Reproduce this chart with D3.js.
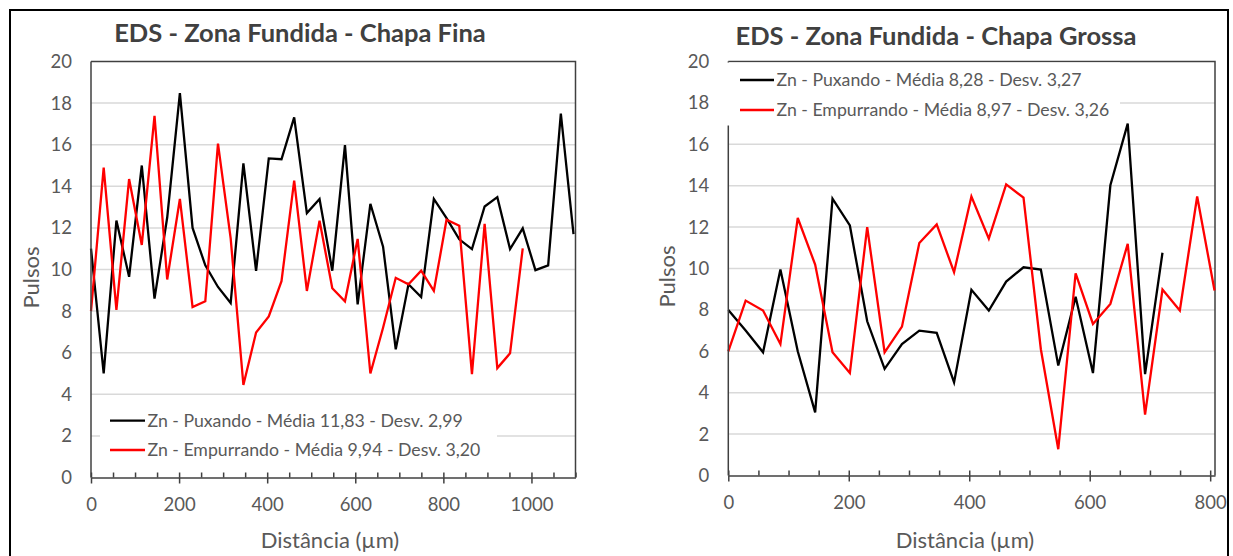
<!DOCTYPE html>
<html>
<head>
<meta charset="utf-8">
<script src="https://cdn.jsdelivr.net/npm/d3@7"></script>
<style>
  body { margin: 0; background: #fff; }
  svg { display: block; font-family: Lato, "Open Sans", sans-serif; }
</style>
</head>
<body>
<svg id="svgArea" width="1233" height="556"></svg>
<script>
// distance of each EDS point (µm)
var distancia = [0, 28.8, 57.7, 86.5, 115.3, 144.2, 173.0, 201.8, 230.6, 259.5,
    288.3, 317.1, 346.0, 374.8, 403.6, 432.5, 461.3, 490.1, 518.9, 547.8,
    576.6, 605.4, 634.3, 663.1, 691.9, 720.8, 749.6, 778.4, 807.2, 836.1,
    864.9, 893.7, 922.5, 951.4, 980.2, 1009.0, 1037.9, 1066.7, 1095.5];

// Chapa Fina
var finaPuxando = [11.0, 5.0, 12.35, 9.65, 15.0, 8.6, 12.5, 18.48, 12.0, 10.2,
    9.16, 8.39, 15.1, 9.94, 15.34, 15.3, 17.31, 12.71, 13.39, 9.94,
    15.98, 8.32, 13.16, 11.1, 6.16, 9.29, 8.68, 13.39, 12.47, 11.45,
    10.98, 13.03, 13.48, 10.98, 11.98, 9.97, 10.2, 17.5, 11.7];
var finaEmpurrando = [8.0, 14.9, 8.06, 14.35, 11.18, 17.39, 9.52, 13.39, 8.19, 8.47,
    16.05, 11.5, 4.45, 6.97, 7.74, 9.44, 14.27, 8.97, 12.35, 9.1,
    8.47, 11.47, 5.0, 7.2, 9.6, 9.29, 9.94, 8.97, 12.39, 12.1,
    4.97, 12.19, 5.26, 5.97, 11.02];

// Chapa Grossa
var grossaPuxando = [8.0, 7.0, 5.95, 9.95, 6.0, 3.05, 13.37, 12.08, 7.45, 5.15,
    6.35, 7.0, 6.89, 4.5, 8.97, 7.97, 9.37, 10.06, 9.95, 5.31,
    8.63, 4.95, 14.02, 17.0, 4.9, 10.76];
var grossaEmpurrando = [6.0, 8.45, 7.97, 6.35, 12.44, 10.19, 5.95, 4.95, 12.0, 5.95,
    7.19, 11.23, 12.13, 9.82, 13.48, 11.44, 14.06, 13.42, 6.1, 1.27,
    9.77, 7.32, 8.29, 11.19, 2.94, 8.98, 7.97, 13.48, 8.94];

var yTicks = [0, 2, 4, 6, 8, 10, 12, 14, 16, 18, 20];
var xTicksFina = [0, 200, 400, 600, 800, 1000];
var xTicksGrossa = [0, 200, 400, 600, 800];

var legendFina = ["Zn - Puxando - Média 11,83 - Desv. 2,99", "Zn - Empurrando - Média 9,94 - Desv. 3,20"];
var legendGrossa = ["Zn - Puxando - Média 8,28 - Desv. 3,27", "Zn - Empurrando - Média 8,97 - Desv. 3,26"];

var textColor = "#595959";
var axisColor = "#404040";
var gridColor = "#d9d9d9";
var seriesColors = ["#000000", "#ff0000"];

var svg = d3.select("#svgArea");

drawChart({
    title: "EDS - Zona Fundida - Chapa Fina",
    titleX: 300, titleY: 41.5,
    left: 91, right: 575.5, top: 61.5, bottom: 477.5,
    xMax: 1100, xTicks: xTicksFina,
    series: [finaPuxando, finaEmpurrando],
    labels: legendFina,
    legendBox: [100, 399, 397, 72], legendRows: [420.7, 450], legendLine: [110, 145],
    yTitleX: 31.6, xTitleX: 330
});

drawChart({
    title: "EDS - Zona Fundida - Chapa Grossa",
    titleX: 936, titleY: 45,
    left: 728.3, right: 1215, top: 61.5, bottom: 475.5,
    xMax: 808, xTicks: xTicksGrossa,
    series: [grossaPuxando, grossaEmpurrando],
    labels: legendGrossa,
    legendBox: [726, 62.5, 394, 63], legendRows: [80, 110], legendLine: [740, 774],
    yTitleX: 667, xTitleX: 965
});

// outer frame
svg.append("rect")
    .attr("x", 10)
    .attr("y", 10)
    .attr("width", 1218)
    .attr("height", 570)
    .attr("fill", "none")
    .attr("stroke", "#000")
    .attr("stroke-width", 2);

function drawChart(c) {
    var x = d3.scaleLinear().domain([0, c.xMax]).range([c.left, c.right]);
    var y = d3.scaleLinear().domain([0, 20]).range([c.bottom, c.top]);
    var g = svg.append("g");

    // horizontal gridlines
    g.selectAll(".grid")
        .data(yTicks.filter(function (d) { return d > 0 && d < 20; }))
        .enter().append("line")
        .attr("x1", c.left)
        .attr("x2", c.right)
        .attr("y1", function (d) { return y(d); })
        .attr("y2", function (d) { return y(d); })
        .attr("stroke", gridColor)
        .attr("stroke-width", 1.5);

    // plot border (top and right)
    g.append("path")
        .attr("d", "M" + c.left + "," + c.top + "H" + c.right + "V" + c.bottom)
        .attr("fill", "none")
        .attr("stroke", axisColor)
        .attr("stroke-width", 1.5);

    // series
    var line = d3.line()
        .x(function (d) { return x(d[0]); })
        .y(function (d) { return y(d[1]); });

    c.series.forEach(function (values, i) {
        var pts = values.map(function (v, k) { return [distancia[k], v]; });
        g.append("path")
            .datum(pts)
            .attr("d", line)
            .attr("fill", "none")
            .attr("stroke", seriesColors[i])
            .attr("stroke-width", 2.3)
            .attr("stroke-linejoin", "miter");
    });

    // left axis line
    g.append("line")
        .attr("x1", c.left).attr("x2", c.left)
        .attr("y1", c.top).attr("y2", c.bottom)
        .attr("stroke", axisColor)
        .attr("stroke-width", 1.5);

    // y labels
    var yAxis = g.append("g")
        .attr("transform", "translate(" + c.left + ",0)")
        .call(d3.axisLeft(y).tickValues(yTicks).tickSize(0).tickPadding(19));
    yAxis.select(".domain").remove();
    yAxis.selectAll("text")
        .attr("fill", textColor)
        .style("font-size", "18.5px")
        .style("font-family", "Lato, sans-serif");

    // minor ticks (inside)
    var minor = d3.range(0, c.xMax + 1, 50);
    var minorAxis = g.append("g")
        .attr("transform", "translate(0," + c.bottom + ")")
        .call(d3.axisTop(x).tickValues(minor).tickSize(5).tickFormat(""));
    minorAxis.select(".domain").remove();
    minorAxis.selectAll("line").attr("stroke", axisColor).attr("stroke-width", 1.5);

    // major ticks and labels
    var xAxis = g.append("g")
        .attr("transform", "translate(0," + c.bottom + ")")
        .call(d3.axisBottom(x).tickValues(c.xTicks).tickFormat(d3.format("d"))
            .tickSizeInner(6).tickSizeOuter(0).tickPadding(14.5));
    xAxis.select(".domain")
        .attr("stroke", axisColor)
        .attr("stroke-width", 1.5);
    xAxis.selectAll("line").attr("stroke", axisColor).attr("stroke-width", 1.5);
    xAxis.selectAll("text")
        .attr("fill", textColor)
        .style("font-size", "18.5px")
        .style("font-family", "Lato, sans-serif");

    // legend
    var lb = c.legendBox;
    g.append("rect")
        .attr("x", lb[0]).attr("y", lb[1])
        .attr("width", lb[2]).attr("height", lb[3])
        .attr("fill", "#fff");

    c.labels.forEach(function (label, i) {
        var ly = c.legendRows[i];
        g.append("line")
            .attr("x1", c.legendLine[0]).attr("x2", c.legendLine[1])
            .attr("y1", ly).attr("y2", ly)
            .attr("stroke", seriesColors[i])
            .attr("stroke-width", 2.3);
        g.append("text")
            .text(label)
            .attr("x", c.legendLine[1] + 2.5)
            .attr("y", ly)
            .attr("dy", "0.35em")
            .attr("fill", textColor)
            .style("font-size", "17.7px");
    });

    // titles
    g.append("text")
        .text(c.title)
        .attr("x", c.titleX)
        .attr("y", c.titleY)
        .attr("text-anchor", "middle")
        .attr("fill", axisColor)
        .style("font-size", "25.5px")
        .style("font-weight", "bold");

    g.append("text")
        .text("Distância (µm)")
        .attr("x", c.xTitleX)
        .attr("y", 548)
        .attr("text-anchor", "middle")
        .attr("fill", textColor)
        .style("font-size", "22px");

    g.append("text")
        .text("Pulsos")
        .attr("transform", "translate(" + c.yTitleX + "," + ((c.top + c.bottom) / 2 + 8) + ") rotate(-90)")
        .attr("text-anchor", "middle")
        .attr("dy", "0.35em")
        .attr("fill", textColor)
        .style("font-size", "22px");
}
</script>
</body>
</html>
